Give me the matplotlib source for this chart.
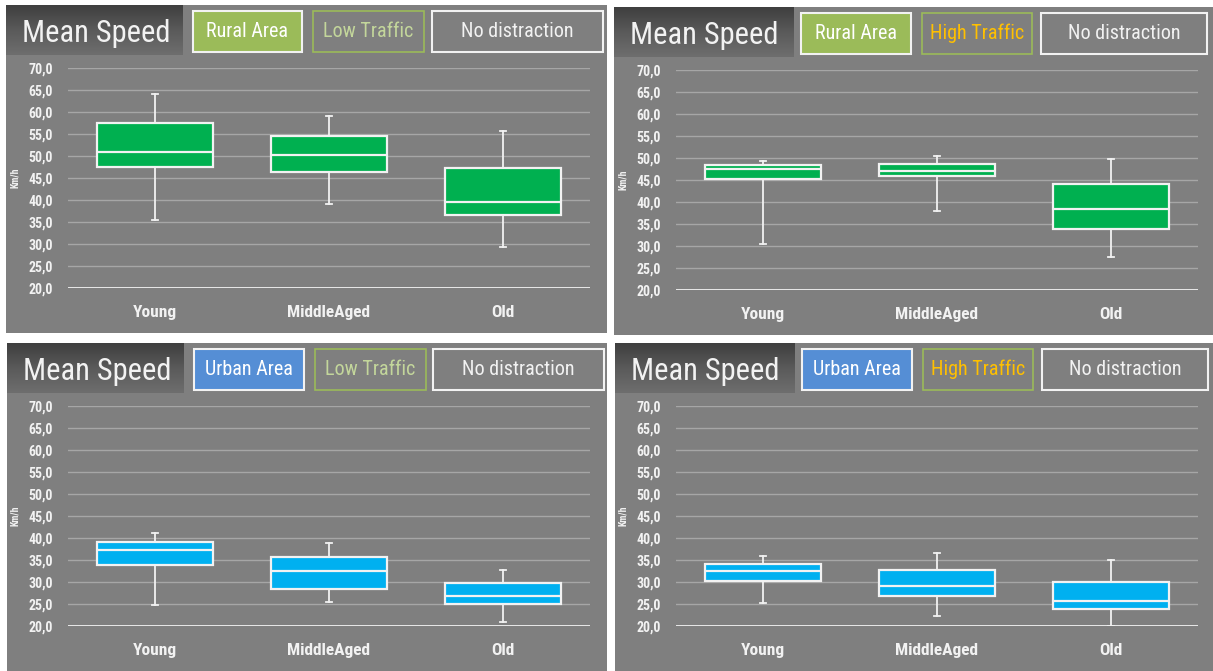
import matplotlib
matplotlib.use("Agg")
import matplotlib.pyplot as plt
import numpy as np
from matplotlib.patches import Rectangle
from matplotlib.colors import LinearSegmentedColormap
from matplotlib import font_manager

# ---- data -----------------------------------------------------------------
age_groups = ["Young", "MiddleAged", "Old"]
y_ticks = [20, 25, 30, 35, 40, 45, 50, 55, 60, 65, 70]

# Rural area, low traffic
rural_low_whislo = [35.5, 39.2, 29.4]
rural_low_q1 = [47.5, 46.4, 36.6]
rural_low_med = [50.8, 50.2, 39.6]
rural_low_q3 = [57.5, 54.5, 47.3]
rural_low_whishi = [64.0, 59.2, 55.7]

# Rural area, high traffic
rural_high_whislo = [30.5, 38.0, 27.5]
rural_high_q1 = [45.2, 46.0, 33.9]
rural_high_med = [47.5, 47.1, 38.3]
rural_high_q3 = [48.3, 48.6, 44.0]
rural_high_whishi = [49.3, 50.5, 49.7]

# Urban area, low traffic
urban_low_whislo = [24.8, 25.5, 21.0]
urban_low_q1 = [33.9, 28.4, 24.9]
urban_low_med = [37.2, 32.5, 26.8]
urban_low_q3 = [39.1, 35.7, 29.7]
urban_low_whishi = [41.1, 38.8, 32.8]

# Urban area, high traffic
urban_high_whislo = [25.2, 22.2, 20.0]
urban_high_q1 = [30.2, 26.8, 23.8]
urban_high_med = [32.5, 29.0, 25.6]
urban_high_q3 = [34.2, 32.8, 30.1]
urban_high_whishi = [35.8, 36.6, 35.0]

# ---- styling --------------------------------------------------------------
W, H = 1213, 671
PANEL_BG = "#7f7f7f"
TEXT = "#f2f2f2"
GRID = "#a6a6a6"
GREEN_BOX = "#00b050"
BLUE_BOX = "#00b0f0"
AREA_GREEN = "#9bbb59"
AREA_BLUE = "#558ed5"
LOW_TXT = "#c3d69b"
HIGH_TXT = "#ffc000"

installed = {f.name for f in font_manager.fontManager.ttflist}
NARROW = "Roboto Condensed" if "Roboto Condensed" in installed else "Roboto"

fig = plt.figure(figsize=(W / 100, H / 100), dpi=100, facecolor="white")

# background layer in pixel coordinates
bg = fig.add_axes([0, 0, 1, 1], zorder=0)
bg.set_xlim(0, W)
bg.set_ylim(H, 0)
bg.axis("off")

tab_cmap = LinearSegmentedColormap.from_list("tab", ["#3f3f3f", "#5a5a5a", "#6e6e6e"])
tab_grad = np.linspace(0, 1, 64).reshape(-1, 1)


def stats_from(lo, q1, med, q3, hi):
    return [
        dict(whislo=a, q1=b, med=c, q3=d, whishi=e, fliers=[], label=g)
        for a, b, c, d, e, g in zip(lo, q1, med, q3, hi, age_groups)
    ]


def narrow(size, weight="normal"):
    return dict(family=NARROW, fontsize=size, fontweight=weight)


def draw_panel(panel, tab_x1, boxes, axes_px, area, area_fill, traffic, traffic_col,
               stats, box_col):
    x0, y0, x1, y1 = panel
    bg.add_patch(Rectangle((x0, y0), x1 - x0, y1 - y0, facecolor=PANEL_BG,
                           edgecolor="none"))
    # dark title tab
    bg.imshow(tab_grad, cmap=tab_cmap, aspect="auto",
              extent=(x0, tab_x1, y0 + 50, y0), zorder=1)
    bg.text(x0 + 16, y0 + 37, "Mean Speed", color=TEXT, va="baseline", ha="left",
            zorder=2, **narrow(22))

    # header labels
    by0, by1 = y0 + 6, y0 + 47
    (ax0, ax1), (tx0, tx1), (nx0, nx1) = boxes
    bg.add_patch(Rectangle((ax0, by0), ax1 - ax0, by1 - by0, facecolor=area_fill,
                           edgecolor="#f2f2f2", lw=1.5, zorder=2))
    bg.text((ax0 + ax1) / 2, (by0 + by1) / 2, area, color="white",
            ha="center", va="center", zorder=3, **narrow(14.5))
    bg.add_patch(Rectangle((tx0, by0), tx1 - tx0, by1 - by0, facecolor="none",
                           edgecolor=AREA_GREEN, lw=1.2, zorder=2))
    bg.text((tx0 + tx1) / 2, (by0 + by1) / 2, traffic, color=traffic_col,
            ha="center", va="center", zorder=3, **narrow(14.5))
    bg.add_patch(Rectangle((nx0, by0), nx1 - nx0, by1 - by0, facecolor="none",
                           edgecolor="#f2f2f2", lw=1.5, zorder=2))
    bg.text((nx0 + nx1) / 2, (by0 + by1) / 2, "No distraction", color=TEXT,
            ha="center", va="center", zorder=3, **narrow(14.5))

    # plot area
    px0, py0, px1, py1 = axes_px
    ax = fig.add_axes([px0 / W, 1 - py1 / H, (px1 - px0) / W, (py1 - py0) / H],
                      zorder=1)
    ax.set_facecolor("none")
    for s in ax.spines.values():
        s.set_visible(False)
    ax.set_xlim(-0.5, 2.5)
    ax.set_ylim(20, 70)
    ax.set_yticks(y_ticks)
    ax.set_yticklabels([f"{v:.1f}".replace(".", ",") for v in y_ticks],
                       color=TEXT, **narrow(10, "bold"))
    ax.set_xticks(range(len(age_groups)))
    ax.set_xticklabels(age_groups, color=TEXT, **narrow(12.5, "bold"))
    ax.tick_params(axis="y", length=0, pad=11)
    ax.tick_params(axis="x", length=0, pad=12)
    ax.yaxis.grid(True, color=GRID, lw=1.0)
    ax.set_axisbelow(True)
    ax.axhline(20, color="#e8e8e8", lw=1.4, zorder=1.5)
    ax.set_ylabel("Km/h", color=TEXT, **narrow(7, "bold"))
    ax.yaxis.set_label_coords(-0.092, 0.5)

    ax.bxp(stats, positions=range(len(age_groups)), widths=0.67, patch_artist=True,
           showfliers=False, capwidths=0.035,
           boxprops=dict(facecolor=box_col, edgecolor="#f2f2f2", lw=1.6),
           medianprops=dict(color="#f2f2f2", lw=1.6),
           whiskerprops=dict(color="#f2f2f2", lw=1.3),
           capprops=dict(color="#f2f2f2", lw=1.3))
    return ax


draw_panel((6, 5, 607, 333), 183,
           [(193, 302), (313, 424), (432, 603)], (68, 68, 590, 288),
           "Rural Area", AREA_GREEN, "Low Traffic", LOW_TXT,
           stats_from(rural_low_whislo, rural_low_q1, rural_low_med, rural_low_q3,
                      rural_low_whishi), GREEN_BOX)

draw_panel((614, 7, 1213, 335), 794,
           [(801, 911), (922, 1032), (1041, 1207)], (676, 70, 1198, 290),
           "Rural Area", AREA_GREEN, "High Traffic", HIGH_TXT,
           stats_from(rural_high_whislo, rural_high_q1, rural_high_med, rural_high_q3,
                      rural_high_whishi), GREEN_BOX)

draw_panel((7, 343, 607, 671), 184,
           [(194, 304), (315, 426), (433, 604)], (68, 406, 590, 626),
           "Urban Area", AREA_BLUE, "Low Traffic", LOW_TXT,
           stats_from(urban_low_whislo, urban_low_q1, urban_low_med, urban_low_q3,
                      urban_low_whishi), BLUE_BOX)

draw_panel((615, 343, 1213, 671), 795,
           [(802, 912), (923, 1033), (1042, 1208)], (676, 406, 1198, 626),
           "Urban Area", AREA_BLUE, "High Traffic", HIGH_TXT,
           stats_from(urban_high_whislo, urban_high_q1, urban_high_med, urban_high_q3,
                      urban_high_whishi), BLUE_BOX)

fig.savefig("out.png", dpi=100, facecolor="white")
